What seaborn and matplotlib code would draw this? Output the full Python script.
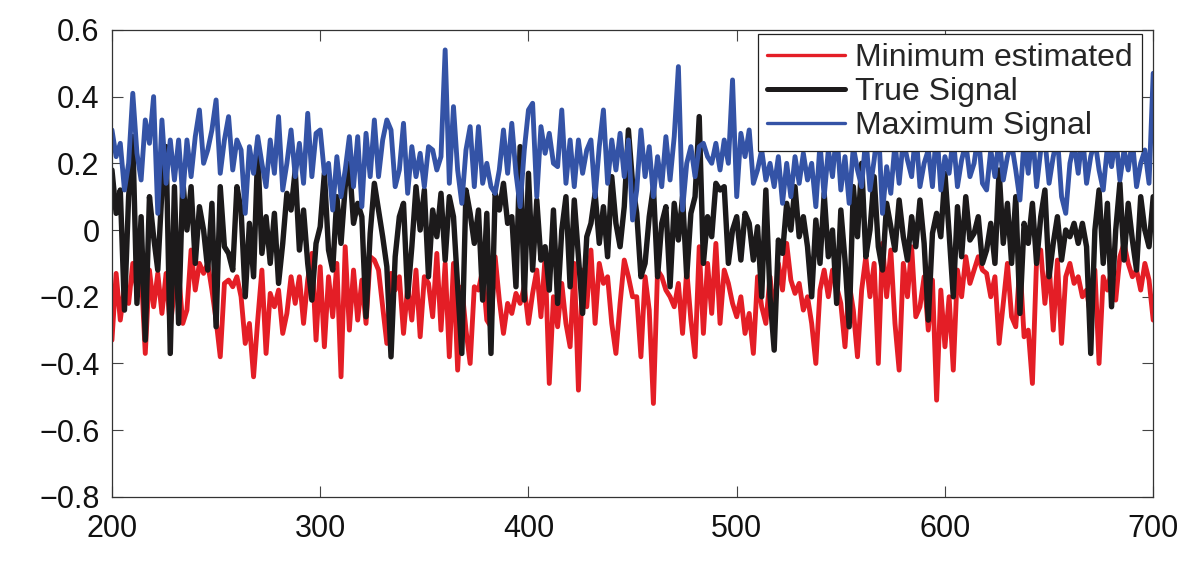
import numpy as np
import pandas as pd
import matplotlib
matplotlib.use('Agg')
import matplotlib.pyplot as plt
import seaborn as sns

# sample positions (every 2 samples from 200 to 700)
x_pos = np.arange(200, 701, 2)

# Minimum estimated (red)
min_est = [
    -0.33, -0.13, -0.27, -0.17, -0.22, -0.10, -0.18, -0.12, -0.37, -0.12, -0.23, -0.13, -0.25, -0.13,
    -0.29, -0.18, -0.13, -0.28, -0.24, -0.06, -0.18, -0.10, -0.13, -0.10, -0.18, -0.27, -0.38, -0.16,
    -0.15, -0.17, -0.14, -0.20, -0.34, -0.28, -0.44, -0.27, -0.12, -0.37, -0.19, -0.23, -0.18, -0.31,
    -0.25, -0.14, -0.22, -0.14, -0.28, -0.15, -0.07, -0.33, -0.11, -0.35, -0.14, -0.26, -0.10, -0.44,
    -0.05, -0.30, -0.12, -0.27, -0.15, -0.28, -0.08, -0.09, -0.12, -0.23, -0.34, -0.13, -0.18, -0.14,
    -0.31, -0.17, -0.27, -0.12, -0.32, -0.14, -0.16, -0.26, -0.07, -0.30, -0.10, -0.38, -0.10, -0.42,
    -0.17, -0.30, -0.40, -0.17, -0.18, -0.12, -0.27, -0.29, -0.08, -0.21, -0.31, -0.22, -0.25, -0.19,
    -0.22, -0.17, -0.28, -0.19, -0.12, -0.26, -0.08, -0.46, -0.20, -0.29, -0.16, -0.28, -0.35, -0.10,
    -0.48, -0.12, -0.23, -0.06, -0.28, -0.10, -0.16, -0.14, -0.28, -0.37, -0.22, -0.09, -0.14, -0.20,
    -0.20, -0.38, -0.14, -0.24, -0.52, -0.12, -0.14, -0.18, -0.20, -0.23, -0.16, -0.31, -0.12, -0.27,
    -0.38, -0.05, -0.31, -0.10, -0.25, -0.04, -0.28, -0.12, -0.16, -0.22, -0.26, -0.20, -0.31, -0.25,
    -0.37, -0.14, -0.23, -0.28, -0.14, -0.26, -0.10, -0.18, -0.04, -0.15, -0.19, -0.16, -0.24, -0.20,
    -0.28, -0.40, -0.18, -0.12, -0.20, -0.12, -0.17, -0.22, -0.35, -0.16, -0.24, -0.38, -0.18, -0.08,
    -0.20, -0.10, -0.40, -0.04, -0.20, -0.06, -0.28, -0.42, -0.10, -0.20, -0.05, -0.26, -0.23, -0.14,
    -0.30, -0.15, -0.51, -0.18, -0.35, -0.20, -0.42, -0.12, -0.20, -0.08, -0.16, -0.12, -0.08, -0.12,
    -0.13, -0.20, -0.14, -0.34, -0.22, -0.10, -0.26, -0.29, -0.10, -0.32, -0.30, -0.46, -0.09, -0.06,
    -0.22, -0.10, -0.30, -0.09, -0.34, -0.14, -0.10, -0.16, -0.14, -0.20, -0.18, -0.26, -0.12, -0.40,
    -0.14, -0.18, -0.12, -0.21, -0.08, -0.04, -0.10, -0.14, -0.12, -0.18, -0.10, -0.15, -0.27,
]

# True Signal (black)
true_sig = [
    0.18, 0.05, 0.12, -0.24, 0.10, 0.28, -0.22, 0.04, -0.33, 0.10, -0.02, -0.12, 0.12, 0.25,
    -0.37, 0.13, -0.28, 0.15, 0.00, 0.13, -0.10, 0.07, 0.00, -0.12, 0.08, -0.29, 0.13, -0.05,
    -0.07, -0.12, 0.13, 0.06, -0.20, 0.02, -0.14, 0.24, -0.07, 0.04, -0.10, 0.05, -0.16, -0.04,
    0.11, 0.06, 0.18, -0.06, 0.06, -0.10, -0.21, -0.04, 0.01, 0.17, -0.06, -0.12, 0.10, -0.04,
    0.13, 0.20, 0.02, 0.08, 0.04, -0.26, -0.01, 0.14, 0.06, -0.02, -0.11, -0.38, -0.08, 0.04,
    0.08, -0.20, -0.05, 0.13, 0.00, 0.12, -0.14, 0.06, -0.02, 0.11, -0.09, 0.10, 0.04, -0.17,
    -0.37, 0.12, 0.05, -0.04, 0.06, -0.21, 0.05, -0.37, 0.11, 0.06, 0.14, 0.02, 0.04, -0.17,
    0.25, -0.21, 0.17, -0.12, 0.09, -0.09, -0.05, -0.18, 0.06, -0.22, 0.00, 0.10, -0.17, 0.09,
    -0.08, -0.25, -0.02, 0.02, 0.11, -0.04, 0.07, -0.08, 0.16, 0.02, -0.05, 0.07, 0.30, 0.14,
    0.05, -0.14, -0.10, 0.04, 0.13, -0.14, 0.02, 0.07, -0.17, 0.08, -0.03, 0.10, -0.14, 0.05,
    0.10, 0.34, -0.10, 0.04, -0.02, 0.14, 0.12, 0.13, -0.10, 0.00, 0.04, -0.09, 0.05, 0.02,
    -0.09, 0.01, -0.20, 0.12, -0.20, -0.36, -0.03, -0.07, 0.08, 0.00, 0.13, -0.02, 0.04, -0.05,
    -0.20, 0.03, -0.10, 0.11, -0.08, 0.00, -0.22, 0.06, -0.09, -0.29, 0.13, -0.02, 0.20, -0.08,
    0.00, 0.16, -0.05, -0.12, 0.08, 0.01, -0.06, 0.09, -0.02, -0.09, 0.04, -0.05, 0.09, -0.04,
    -0.27, -0.01, 0.05, -0.02, 0.17, -0.01, -0.20, 0.07, -0.08, 0.10, -0.03, -0.01, 0.04, -0.10,
    -0.06, 0.02, -0.10, 0.18, -0.04, 0.08, -0.10, 0.10, -0.25, 0.02, -0.04, 0.08, -0.10, 0.04,
    0.12, -0.14, -0.04, 0.04, -0.09, 0.00, -0.02, 0.02, -0.04, 0.02, -0.05, -0.37, 0.00, 0.12,
    -0.10, 0.08, -0.23, 0.00, 0.14, -0.09, 0.08, -0.03, -0.12, 0.10, 0.00, -0.05, 0.10,
]

# Maximum Signal (blue)
max_sig = [
    0.30, 0.22, 0.26, 0.12, 0.20, 0.41, 0.23, 0.15, 0.33, 0.26, 0.40, 0.05, 0.33, 0.14,
    0.27, 0.15, 0.27, 0.10, 0.27, 0.16, 0.28, 0.36, 0.20, 0.24, 0.30, 0.39, 0.17, 0.27,
    0.34, 0.18, 0.27, 0.24, 0.05, 0.25, 0.17, 0.28, 0.20, 0.13, 0.27, 0.17, 0.34, 0.12,
    0.20, 0.30, 0.16, 0.26, 0.14, 0.35, 0.16, 0.29, 0.30, 0.17, 0.20, 0.06, 0.22, 0.10,
    0.18, 0.28, 0.13, 0.28, 0.07, 0.29, 0.16, 0.33, 0.16, 0.27, 0.33, 0.30, 0.13, 0.18,
    0.32, 0.11, 0.25, 0.16, 0.23, 0.13, 0.25, 0.24, 0.18, 0.22, 0.54, 0.14, 0.37, 0.18,
    0.08, 0.24, 0.31, 0.13, 0.31, 0.14, 0.20, 0.13, 0.11, 0.18, 0.30, 0.17, 0.32, 0.17,
    0.07, 0.24, 0.36, 0.38, 0.10, 0.31, 0.23, 0.29, 0.20, 0.19, 0.36, 0.14, 0.27, 0.13,
    0.27, 0.17, 0.24, 0.27, 0.10, 0.25, 0.36, 0.14, 0.27, 0.18, 0.29, 0.16, 0.27, 0.03,
    0.12, 0.30, 0.16, 0.25, 0.10, 0.22, 0.13, 0.28, 0.15, 0.28, 0.49, 0.06, 0.20, 0.25,
    0.16, 0.25, 0.26, 0.22, 0.20, 0.26, 0.18, 0.27, 0.20, 0.45, 0.10, 0.29, 0.22, 0.30,
    0.14, 0.18, 0.24, 0.15, 0.20, 0.13, 0.22, 0.08, 0.20, 0.10, 0.22, 0.14, 0.23, 0.15,
    0.20, 0.07, 0.26, 0.10, 0.24, 0.16, 0.30, 0.12, 0.22, 0.08, 0.25, 0.18, 0.13, 0.28,
    0.12, 0.21, 0.32, 0.05, 0.19, 0.11, 0.26, 0.14, 0.27, 0.21, 0.16, 0.30, 0.13, 0.20,
    0.24, 0.13, 0.31, 0.12, 0.22, 0.17, 0.28, 0.13, 0.21, 0.26, 0.16, 0.20, 0.29, 0.14,
    0.12, 0.24, 0.16, 0.28, 0.15, 0.22, 0.26, 0.18, 0.09, 0.27, 0.17, 0.30, 0.13, 0.24,
    0.27, 0.14, 0.22, 0.28, 0.10, 0.05, 0.20, 0.26, 0.17, 0.29, 0.14, 0.22, 0.27, 0.18,
    0.12, 0.25, 0.19, 0.28, 0.15, 0.24, 0.18, 0.27, 0.13, 0.20, 0.24, 0.14, 0.47,
]

series_names = ['Minimum estimated', 'True Signal', 'Maximum Signal']
series_colors = ['#e41e26', '#1c1a1b', '#3453a6']
series_widths = [3.5, 3.9, 3.5]

sns.set_style('ticks')
plt.rcParams['font.family'] = ['Liberation Sans', 'DejaVu Sans']

fig = plt.figure(figsize=(12, 5.64), dpi=100)
ax = fig.add_axes([0.0933, 0.119, 0.8677, 0.828])

for vals, name, col, lw in zip([min_est, true_sig, max_sig], series_names, series_colors, series_widths):
    sns.lineplot(x=x_pos, y=vals, ax=ax, color=col, linewidth=lw, label=name)

ax.set_xlim(200, 700)
ax.set_ylim(-0.8, 0.6)
ax.set_xticks([200, 300, 400, 500, 600, 700])
ax.set_yticks([-0.8, -0.6, -0.4, -0.2, 0, 0.2, 0.4, 0.6])
ax.set_yticklabels(['\u22120.8', '\u22120.6', '\u22120.4', '\u22120.2', '0', '0.2', '0.4', '0.6'])
ax.tick_params(axis='both', direction='in', length=8, width=0.8, labelsize=22,
               top=True, right=True, colors='#444444', labelcolor='#111111')
ax.tick_params(axis='x', pad=12)
ax.tick_params(axis='y', pad=9)
for sp in ax.spines.values():
    sp.set_linewidth(0.9)
    sp.set_color('#333333')

leg = ax.legend(loc='upper right', bbox_to_anchor=(0.9894, 0.9914), fontsize=23,
                frameon=True, fancybox=False, framealpha=1, edgecolor='#222222',
                handlelength=2.45, handletextpad=0.3, borderpad=0.3, labelspacing=0.12,
                borderaxespad=0)
leg.get_frame().set_linewidth(0.9)
for line, lw in zip(leg.get_lines(), [2.4, 3.6, 2.4]):
    line.set_linewidth(lw)

fig.savefig('out.png', dpi=100)
